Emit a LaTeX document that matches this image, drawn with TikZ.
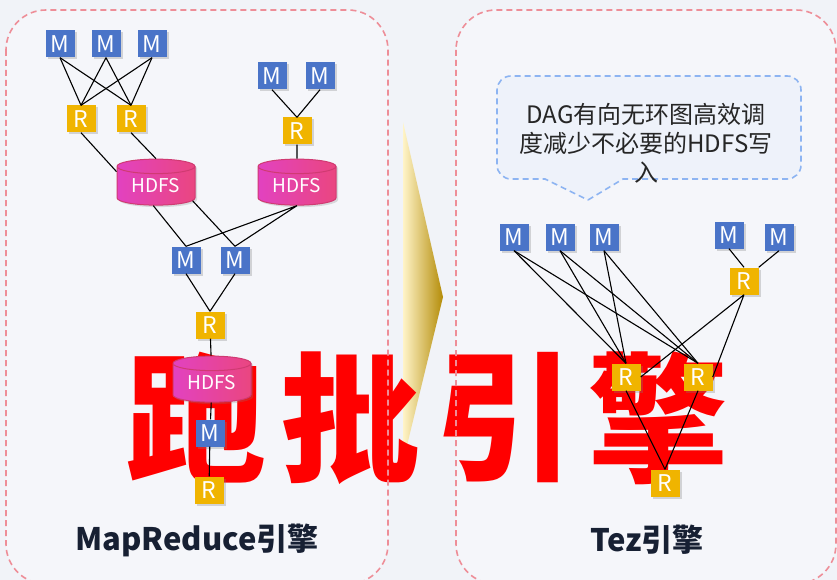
\documentclass[tikz,border=0pt]{standalone}
\usepackage{fontspec}
\setmainfont{Noto Sans CJK SC}
\usetikzlibrary{shapes.geometric,shadows}

\definecolor{bgcol}{HTML}{F1F3F8}
\definecolor{panel}{HTML}{F5F6FA}
\definecolor{mblue}{HTML}{4A74C8}
\definecolor{rgold}{HTML}{F0B400}
\definecolor{hdfsleft}{HTML}{E242C0}
\definecolor{hdfsright}{HTML}{EA4680}
\definecolor{hdfsrim}{HTML}{D03A72}
\definecolor{dashpink}{HTML}{EE8E98}
\definecolor{dashblue}{HTML}{8DB4F2}
\definecolor{notefill}{HTML}{EEF2FA}
\definecolor{ink}{HTML}{172033}
\definecolor{goldlight}{HTML}{FFF4C8}
\definecolor{goldmid}{HTML}{F6CF4A}
\definecolor{golddark}{HTML}{B48C08}

\tikzset{
  mnode/.style={fill=mblue, text=white, minimum width=29pt, minimum height=27pt, inner sep=0pt,
    font=\fontsize{23}{23}\selectfont,
    drop shadow={opacity=0.3, shadow xshift=2pt, shadow yshift=-2pt}},
  rnode/.style={mnode, fill=rgold},
  hdfsnode/.style={cylinder, shape border rotate=90, aspect=0.3, draw=hdfsrim, line width=1pt,
    left color=hdfsleft, right color=hdfsright,
    minimum width=78pt, minimum height=46pt, inner sep=0pt, text=white,
    font=\fontsize{19}{19}\selectfont,
    drop shadow={opacity=0.25, shadow xshift=2pt, shadow yshift=-2pt}},
  link/.style={line width=1.1pt, black},
  panelbox/.style={draw=dashpink, dash pattern=on 6pt off 4pt, line width=1.6pt, rounded corners=40pt},
  bigred/.style={text=red, inner sep=0pt, font=\fontsize{140}{140}\selectfont\bfseries},
  title/.style={text=ink, font=\fontsize{31}{31}\selectfont\bfseries}
}

\begin{document}
\begin{tikzpicture}[x=1pt,y=-1pt]
  \fill[bgcol] (0,0) rectangle (837,580);
  \useasboundingbox (0,0) rectangle (837,580);

  \fill[panel, rounded corners=40pt] (6,10) rectangle (388,584);
  \fill[panel, rounded corners=40pt] (456,10) rectangle (836,584);

  % middle arrow
  \shade[left color=goldlight, middle color=goldmid, right color=golddark]
    (403,122) -- (443,297) -- (403,462) -- cycle;

  \foreach \c [count=\i] in {跑,批,引,擎}
    \node[bigred] (big\i) at ({42+154*\i},418) {\c};

  \draw[panelbox] (6,10) rectangle (388,584);
  \draw[panelbox] (456,10) rectangle (836,584);

  % MapReduce
  \foreach \x [count=\i] in {60,106,152} \node[mnode] (m\i) at (\x,44) {M};
  \node[rnode] (r1) at (81,119) {R};
  \node[rnode] (r2) at (131,119) {R};
  \node[mnode] (m4) at (272,76) {M};
  \node[mnode] (m5) at (320,76) {M};
  \node[rnode] (r3) at (297,131) {R};
  \node[hdfsnode] (h1) at (156,186) {HDFS};
  \node[hdfsnode] (h2) at (297,186) {HDFS};
  \node[mnode] (m6) at (186,260) {M};
  \node[mnode] (m7) at (235,260) {M};
  \node[rnode] (r4) at (210,325) {R};
  \node[hdfsnode] (h3) at (212,383) {HDFS};
  \node[mnode] (m8) at (210,433) {M};
  \node[rnode] (r5) at (209,490) {R};

  \foreach \i in {1,2,3} \foreach \j in {1,2} \draw[link] (m\i.south) -- (r\j.north);
  \draw[link] (m4.south) -- (r3.north) (m5.south) -- (r3.north);
  \draw[link] (r1.south) -- (h1.160) (r2.south) -- (h1.north) (r3.south) -- (h2.north);
  \draw[link] (h1.262) -- (m6.north) (h1.338) -- (m7.north);
  \draw[link] (h2.south) -- (m6.north) (h2.south) -- (m7.north);
  \draw[link] (m6.south) -- (r4.north) (m7.south) -- (r4.north);
  \draw[link] (r4) -- (h3) (h3) -- (m8) (m8) -- (r5);

  % Tez
  \draw[draw=dashblue, fill=notefill, dash pattern=on 6pt off 4pt, line width=1.6pt]
    (588,200) -- (623,179) [rounded corners=14pt] -- (801,179) -- (801,76) -- (497,76) -- (497,179)
    [sharp corners] -- (545,179) -- cycle;
  \node[align=center, font=\fontsize{24}{29}\selectfont, text=black!85] (note) at (646,143)
    {DAG有向无环图高效调\\度减少不必要的HDFS写\\入};

  \foreach \x [count=\i] in {514,560,604} \node[mnode] (tm\i) at (\x,237) {M};
  \node[mnode] (tm4) at (729,235) {M};
  \node[mnode] (tm5) at (779,237) {M};
  \node[rnode] (tr1) at (744,281) {R};
  \node[rnode] (tr2) at (626,377) {R};
  \node[rnode] (tr3) at (698,377) {R};
  \node[rnode] (tr4) at (665,483) {R};

  \foreach \i in {1,2,3} \foreach \j in {2,3} \draw[link] (tm\i.south) -- (tr\j.north);
  \draw[link] (tm4.south) -- (tr1.north) (tm5.south) -- (tr1.north east);
  \draw[link] (tr1.south) -- (tr2.east) (tr1.south) -- (tr3.east);
  \draw[link] (tr2.south) -- (tr4.north) (tr3.south) -- (tr4.north);

  \node[title] (mrtitle) at (197,540) {MapReduce引擎};
  \node[title] (teztitle) at (647,540) {Tez引擎};
\end{tikzpicture}
\end{document}
